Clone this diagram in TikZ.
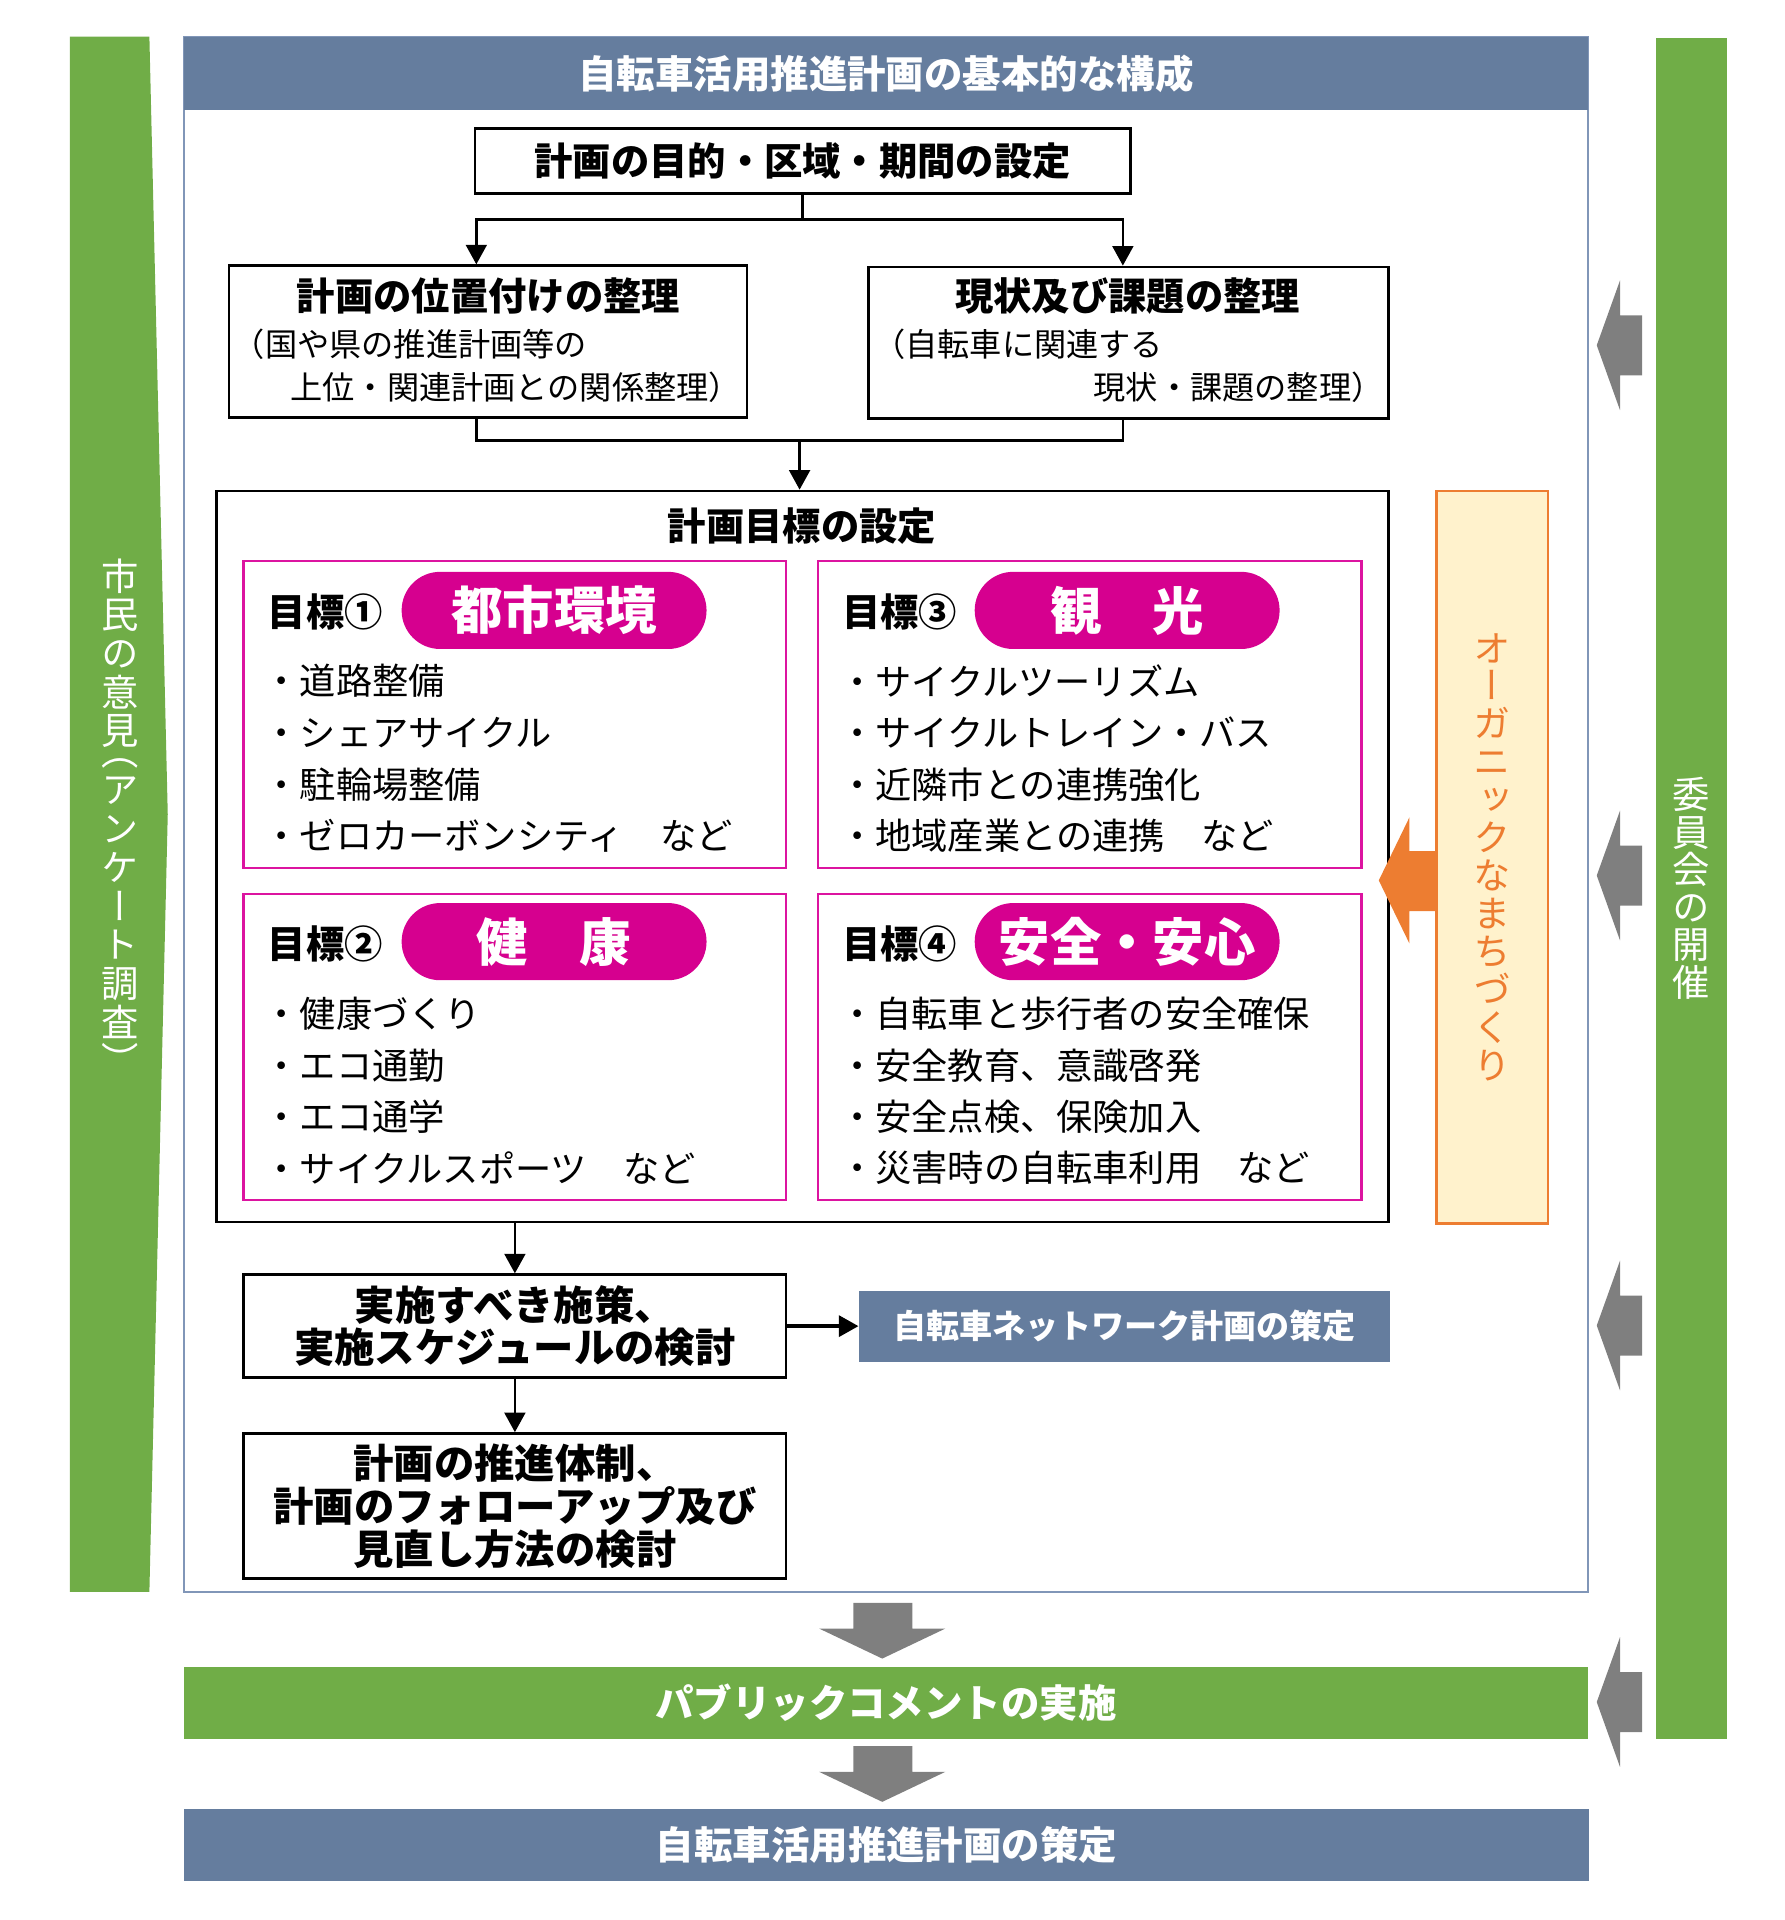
\documentclass[tikz,border=0pt]{standalone}
\usepackage{fontspec}
\setmainfont{Noto Sans CJK JP}
\newfontfamily\vjp[RawFeature=+vert]{Noto Sans CJK JP}
\usetikzlibrary{positioning,arrows.meta}

\definecolor{bandblue}{HTML}{657D9E}
\definecolor{framegray}{HTML}{8196B8}
\definecolor{leafgreen}{HTML}{70AD47}
\definecolor{pillpink}{HTML}{D6008F}
\definecolor{goalpink}{HTML}{DC14A0}
\definecolor{orangeline}{HTML}{ED7D31}
\definecolor{orangefill}{HTML}{FFF2CC}
\definecolor{arrowgray}{HTML}{7F7F7F}

\begin{document}
\begin{tikzpicture}[x=1pt, y=-1pt,
    box/.style={draw, line width=2.2pt, fill=white, inner sep=0pt, align=center},
    ttl/.style={inner sep=0pt, font=\bfseries\fontsize{31.3}{36}\selectfont},
    sub/.style={inner sep=0pt, anchor=west, font=\fontsize{26.3}{30}\selectfont},
    goal/.style={draw=goalpink, line width=2pt, minimum width=443pt, minimum height=251pt},
    pill/.style={fill=pillpink, rounded corners=31.4pt, minimum width=249pt, minimum height=63pt,
        inner sep=0pt, text=white, font=\bfseries\fontsize{42}{48}\selectfont},
    item/.style={inner sep=0pt, anchor=west, font=\fontsize{29.6}{34}\selectfont},
    band/.style={minimum width=1147pt, minimum height=59pt, inner sep=0pt, text=white,
        font=\bfseries\fontsize{31.4}{36}\selectfont},
    vtext/.style={inner sep=0pt, align=center, execute at begin node={\lineskiplimit=-20pt}},
    link/.style={line width=2.2pt},
    arr/.style={line width=2.2pt, -{Triangle[length=16pt,width=17pt]}}]

    \useasboundingbox (0,0) rectangle (1457,1568);

    % frame and header
    \draw[framegray, line width=1.6pt] (150,30) rectangle (1297,1300);
    \node (0) [band, fill=bandblue, minimum height=60pt] at (723.5,60) {自転車活用推進計画の基本的な構成};

    % side bars
    \fill[leafgreen] (57,30) -- (122,30) -- (137,665) -- (122,1300) -- (57,1300) -- cycle;
    \node (L) [vtext, anchor=north, text=white, font=\vjp\fontsize{30.5}{31.6}\selectfont] at (98,456)
        {市\\民\\の\\意\\見\\[-15pt]（\\ア\\ン\\ケ\\ー\\ト\\調\\査\\）};
    \node (R) [vtext, fill=leafgreen, minimum width=58pt, minimum height=1389pt, text=white,
        font=\vjp\fontsize{30.5}{30.7}\selectfont] at (1381,725.5) {委\\員\\会\\の\\開\\催};

    % upper steps
    \node (1) [box, ttl, minimum width=535pt, minimum height=53pt] at (655.5,131.5) {計画の目的・区域・期間の設定};
    \node (21) [box, minimum width=423pt, minimum height=124pt] at (398.5,279) {};
    \node (22) [box, minimum width=425pt, minimum height=124pt] at (921.5,280) {};
    \node (21t) [ttl] at (399,242) {計画の位置付けの整理};
    \node (21a) [sub] at (190,281) {（国や県の推進計画等の};
    \node (21b) [sub] at (237,316) {上位・関連計画との関係整理）};
    \node (22t) [ttl] at (921,242) {現状及び課題の整理};
    \node (22a) [sub] at (713,281) {（自転車に関連する};
    \node (22b) [sub] at (893,316) {現状・課題の整理）};

    \draw[link] (1.south) -- ++(0,20) coordinate (j1);
    \draw[arr] (j1) -| ([xshift=-9.5pt]21.north);
    \draw[arr] (j1) -| ([xshift=-4.5pt]22.north);

    % goals
    \node (3) [draw, line width=2.2pt, minimum width=957pt, minimum height=597pt] at (655.5,699.5) {};
    \node (3t) [ttl] at (655,430) {計画目標の設定};

    \coordinate (j2) at (653,360);
    \draw[link] ([xshift=-9.5pt]21.south) |- (j2) -| ([xshift=-4.5pt]22.south);
    \draw[arr] (j2) -- (j2 |- 3.north);

    \node (31) [goal] at (420.5,583.5) {};
    \node (32) [goal, minimum width=444pt] at (890,583.5) {};
    \node (33) [goal, minimum height=250pt] at (420.5,855) {};
    \node (34) [goal, minimum width=444pt, minimum height=250pt] at (890,855) {};

    \node (31l) [ttl, anchor=west] at (218.5,500) {目標①};
    \node (31p) [pill] at (452.5,498.5) {都市環境};
    \node (32l) [ttl, anchor=west] at (687.5,500) {目標③};
    \node (32p) [pill] at (920.5,498.5) {観　光};
    \node (33l) [ttl, anchor=west] at (218.5,771) {目標②};
    \node (33p) [pill] at (452.5,769) {健　康};
    \node (34l) [ttl, anchor=west] at (687.5,771) {目標④};
    \node (34p) [pill] at (920.5,769) {安全・安心};

    \foreach \t [count=\i] in {・道路整備, ・シェアサイクル, ・駐輪場整備, ・ゼロカーボンシティ　など}
        \node (31-\i) [item] at (215,513.7+42.3*\i) {\t};
    \foreach \t [count=\i] in {・サイクルツーリズム, ・サイクルトレイン・バス, ・近隣市との連携強化, ・地域産業との連携　など}
        \node (32-\i) [item] at (685,513.7+42.3*\i) {\t};
    \foreach \t [count=\i] in {・健康づくり, ・エコ通勤, ・エコ通学, ・サイクルスポーツ　など}
        \node (33-\i) [item] at (215,786+42*\i) {\t};
    \foreach \t [count=\i] in {・自転車と歩行者の安全確保, ・安全教育、意識啓発, ・安全点検、保険加入, ・災害時の自転車利用　など}
        \node (34-\i) [item] at (685,786+42*\i) {\t};

    % organic town building
    \node (org) [vtext, draw=orangeline, fill=orangefill, line width=2pt, minimum width=91pt,
        minimum height=598pt, text=orangeline, font=\vjp\fontsize{30.5}{31}\selectfont] at (1218.5,700)
        {オ\\ー\\ガ\\ニ\\ッ\\ク\\な\\ま\\ち\\づ\\く\\り};
    \fill[orangeline] (1126,719) -- (1151,667.5) -- (1151,695) -- (org.west |- 0,695)
        -- (org.west |- 0,744) -- (1151,744) -- (1151,770.5) -- cycle;

    % lower steps
    \node (4) [box, font=\bfseries\fontsize{33}{35}\selectfont, minimum width=443pt, minimum height=84pt]
        at (420.5,1083) {実施すべき施策、\\実施スケジュールの検討};
    \node (5) [right=58pt of 4, fill=bandblue, text=white, minimum width=434pt, minimum height=58pt,
        inner sep=0pt, font=\bfseries\fontsize{27}{30}\selectfont] {自転車ネットワーク計画の策定};
    \node (6) [box, font=\bfseries\fontsize{33}{35}\selectfont, minimum width=443pt, minimum height=118.5pt,
        below=43.5pt of 4] {計画の推進体制、\\計画のフォローアップ及び\\見直し方法の検討};

    \draw[arr] (4.north |- 3.south) -- (4.north);
    \draw[arr, line width=3pt] (4.east) -- (5.west);
    \draw[arr] (4.south) -- (6.north);

    % committee arrows
    \foreach \c in {282,715,1082.5,1390}
        \fill[arrowgray] (1304,\c) -- (1323,\c-53) -- (1323,\c-24.5) -- (1341,\c-24.5)
            -- (1341,\c+24.5) -- (1323,\c+24.5) -- (1323,\c+53) -- cycle;

    % final steps
    \foreach \t in {1309,1426}
        \fill[arrowgray] (697,\t) -- (745,\t) -- (745,\t+21) -- (772,\t+21) -- (720.5,\t+45.5)
            -- (669,\t+21) -- (697,\t+21) -- cycle;
    \node (7) [band, fill=leafgreen] at (723.5,1390.5) {パブリックコメントの実施};
    \node (8) [band, fill=bandblue, minimum width=1148pt] at (724,1506.5) {自転車活用推進計画の策定};

\end{tikzpicture}
\end{document}
